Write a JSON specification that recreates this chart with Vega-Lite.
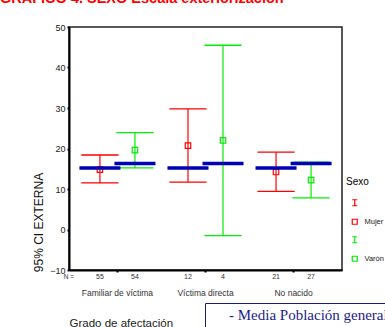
{
  "$schema": "https://vega.github.io/schema/vega-lite/v6.json",
  "width": 273,
  "height": 243,
  "autosize": {"type": "none"},
  "padding": {"left": 69, "top": 27, "right": 43, "bottom": 57},
  "background": "white",
  "config": {"font": "Liberation Sans", "view": {"stroke": "#222", "strokeWidth": 1.5}},
  "title": {"text": "GRÁFICO 4. SEXO Escala exteriorización", "anchor": "start", "frame": "group", "dx": -69, "dy": 0, "offset": 17, "fontSize": 14.5, "fontWeight": "bold", "color": "#ff0000", "font": "Liberation Sans"},
  "data": {"values": [
    {"grupo": "Familiar de víctima", "sexo": "Mujer", "n": 55, "media": 14.8, "inf": 11.5, "sup": 18.4, "pob": 15.2},
    {"grupo": "Familiar de víctima", "sexo": "Varón", "n": 54, "media": 19.6, "inf": 15.2, "sup": 23.9, "pob": 16.3},
    {"grupo": "Víctima directa", "sexo": "Mujer", "n": 12, "media": 20.7, "inf": 11.7, "sup": 29.8, "pob": 15.2},
    {"grupo": "Víctima directa", "sexo": "Varón", "n": 4, "media": 22.0, "inf": -1.5, "sup": 45.5, "pob": 16.3},
    {"grupo": "No nacido", "sexo": "Mujer", "n": 21, "media": 14.2, "inf": 9.4, "sup": 19.1, "pob": 15.2},
    {"grupo": "No nacido", "sexo": "Varón", "n": 27, "media": 12.2, "inf": 7.8, "sup": 16.6, "pob": 16.3}
  ]},
  "encoding": {
    "x": {"field": "grupo", "type": "nominal",
      "scale": {"domain": ["Familiar de víctima", "Víctima directa", "No nacido"], "paddingInner": 0, "paddingOuter": 0.05},
      "title": "Grado de afectación",
      "axis": {"labelFontSize": 8.5, "labelColor": "#333", "labelPadding": 16, "tickSize": 2, "tickWidth": 2, "tickColor": "#000", "domainColor": "#000", "domainWidth": 2, "labelAngle": 0, "labelLimit": 0, "titleFontSize": 11.5, "titleFontWeight": "normal", "titleColor": "#222", "titleAnchor": "start", "titleAlign": "left", "titleX": 0, "titleY": 56, "titleBaseline": "alphabetic"}},
    "xOffset": {"field": "sexo", "type": "nominal", "scale": {"type": "point", "domain": ["Mujer", "Varón"], "padding": 0.757}}
  },
  "layer": [
    {"mark": {"type": "rule", "strokeWidth": 1.2},
     "encoding": {
       "y": {"field": "inf", "type": "quantitative", "scale": {"domain": [-10, 50], "nice": false, "zero": false},
         "axis": {"values": [-10, 0, 10, 20, 30, 40, 50], "tickSize": 2, "tickWidth": 2, "tickColor": "#000", "labelFontSize": 9, "labelColor": "#222", "labelPadding": 2, "domainColor": "#000", "domainWidth": 2, "grid": false, "title": "95% CI EXTERNA", "titleFontSize": 12, "titleFontWeight": "normal", "titleColor": "#111", "titleX": -31, "titleY": 195, "titleAlign": "center", "titleBaseline": "middle", "titleAngle": 270}},
       "y2": {"field": "sup"},
       "color": {"field": "sexo", "type": "nominal",
         "scale": {"domain": ["IM", "Mujer", "IV", "Varón"], "range": ["#ff0000", "#ff0000", "#00ee00", "#00ee00"]}}
     }},
    {"mark": {"type": "tick", "orient": "horizontal", "size": 36, "thickness": 0.1, "filled": false, "strokeWidth": 1.2, "opacity": 1},
     "encoding": {"y": {"field": "sup", "type": "quantitative"}, "color": {"field": "sexo", "type": "nominal"}}},
    {"mark": {"type": "tick", "orient": "horizontal", "size": 36, "thickness": 0.1, "filled": false, "strokeWidth": 1.2, "opacity": 1},
     "encoding": {"y": {"field": "inf", "type": "quantitative"}, "color": {"field": "sexo", "type": "nominal"}}},
    {"mark": {"type": "point", "filled": false, "size": 30, "strokeWidth": 1.2, "opacity": 1},
     "encoding": {
       "y": {"field": "media", "type": "quantitative"},
       "color": {"field": "sexo", "type": "nominal",
         "legend": {"orient": "none", "legendX": 277, "legendY": 150, "title": "Sexo", "titleFontSize": 10, "titleFontWeight": "normal", "titleColor": "#000", "titlePadding": 12, "labelFontSize": 7.5, "labelColor": "#222", "symbolSize": 25, "symbolStrokeWidth": 1.2, "symbolFillColor": "transparent", "symbolOffset": 5, "labelOffset": 6, "rowPadding": 7, "labelExpr": "datum.label == 'Mujer' || datum.label == 'Varón' ? datum.label : ''"}},
       "shape": {"field": "sexo", "type": "nominal", "scale": {"domain": ["IM", "Mujer", "IV", "Varón"], "range": ["M-1,-1.2H1M0,-1.2V1.2M-1,1.2H1", "square", "M-1,-1.2H1M0,-1.2V1.2M-1,1.2H1", "square"]}}
     }},
    {"mark": {"type": "text", "fontSize": 7, "color": "#333", "baseline": "middle"},
     "encoding": {"y": {"datum": -11.8}, "text": {"field": "n", "type": "quantitative"}}},
    {"data": {"values": [{"etiqueta": "N ="}]},
     "mark": {"type": "text", "fontSize": 6.5, "color": "#333", "baseline": "middle", "dx": -31},
     "encoding": {"x": {"datum": "Familiar de víctima"}, "xOffset": {"datum": "Mujer"}, "y": {"datum": -11.8}, "text": {"field": "etiqueta"}}},
    {"mark": {"type": "tick", "orient": "horizontal", "size": 41, "thickness": 3.5, "color": "#0000b4", "opacity": 1},
     "encoding": {
       "y": {"field": "pob", "type": "quantitative"},
       "strokeDash": {"datum": "- Media Población general", "type": "nominal", "scale": {"range": [[1, 0]]},
         "legend": {"orient": "none", "legendX": 136, "legendY": 276, "title": null, "strokeColor": "#1a1a80", "fillColor": "white", "padding": 4, "labelFont": "Liberation Serif", "labelFontSize": 15, "labelColor": "#1c1c8c", "symbolOpacity": 0, "symbolSize": 100, "labelOffset": 5, "labelLimit": 0, "labelExpr": "datum.label + '          '"}}
     }}
  ]
}
